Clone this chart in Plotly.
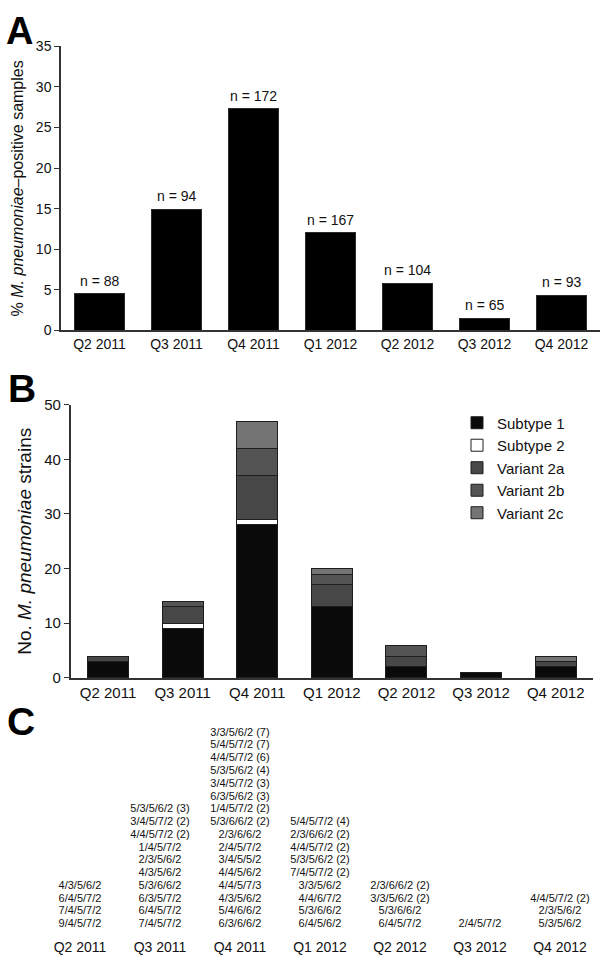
import plotly.graph_objects as go

# ---------------- data ----------------
quarters = ["Q2 2011", "Q3 2011", "Q4 2011", "Q1 2012", "Q2 2012", "Q3 2012", "Q4 2012"]

# Panel A
pct_positive = [4.5, 14.9, 27.3, 12.0, 5.8, 1.5, 4.3]
n_samples = [88, 94, 172, 167, 104, 65, 93]

# Panel B (stacked counts)
subtype1 = [3, 9, 28, 13, 2, 1, 2]
subtype2 = [0, 1, 1, 0, 0, 0, 0]
variant2a = [1, 3, 8, 4, 2, 0, 1]
variant2b = [0, 1, 5, 2, 2, 0, 0]
variant2c = [0, 0, 5, 1, 0, 0, 1]

# Panel C (MLVA types per quarter, top to bottom)
mlva_q2_2011 = ["4/3/5/6/2", "6/4/5/7/2", "7/4/5/7/2", "9/4/5/7/2"]
mlva_q3_2011 = ["5/3/5/6/2 (3)", "3/4/5/7/2 (2)", "4/4/5/7/2 (2)", "1/4/5/7/2", "2/3/5/6/2",
                "4/3/5/6/2", "5/3/6/6/2", "6/3/5/7/2", "6/4/5/7/2", "7/4/5/7/2"]
mlva_q4_2011 = ["3/3/5/6/2 (7)", "5/4/5/7/2 (7)", "4/4/5/7/2 (6)", "5/3/5/6/2 (4)", "3/4/5/7/2 (3)",
                "6/3/5/6/2 (3)", "1/4/5/7/2 (2)", "5/3/6/6/2 (2)", "2/3/6/6/2", "2/4/5/7/2",
                "3/4/5/5/2", "4/4/5/6/2", "4/4/5/7/3", "4/3/5/6/2", "5/4/6/6/2", "6/3/6/6/2"]
mlva_q1_2012 = ["5/4/5/7/2 (4)", "2/3/6/6/2 (2)", "4/4/5/7/2 (2)", "5/3/5/6/2 (2)", "7/4/5/7/2 (2)",
                "3/3/5/6/2", "4/4/6/7/2", "5/3/6/6/2", "6/4/5/6/2"]
mlva_q2_2012 = ["2/3/6/6/2 (2)", "3/3/5/6/2 (2)", "5/3/6/6/2", "6/4/5/7/2"]
mlva_q3_2012 = ["2/4/5/7/2"]
mlva_q4_2012 = ["4/4/5/7/2 (2)", "2/3/5/6/2", "5/3/5/6/2"]
mlva_lists = [mlva_q2_2011, mlva_q3_2011, mlva_q4_2011, mlva_q1_2012,
              mlva_q2_2012, mlva_q3_2012, mlva_q4_2012]

# ---------------- styling ----------------
FONT = "Arial, 'Liberation Sans', Helvetica, sans-serif"
TXT = "#111111"
AXC = "#333333"
W, H = 600, 979

def px_x(a, b):
    return [a / W, min(1, b / W)]

def px_y(top, bottom):
    return [1 - bottom / H, 1 - top / H]

def pxp_x(a):
    return a / W

def pxp_y(a):
    return 1 - a / H

fig = go.Figure()

# Panel A
fig.add_trace(go.Bar(
    x=quarters, y=pct_positive, xaxis="x", yaxis="y",
    marker=dict(color="#000000", line=dict(color="#2a2a2a", width=1)),
    width=0.66, showlegend=False,
))

# Panel B
series = [
    ("Subtype 1", subtype1, "#0a0a0a"),
    ("Subtype 2", subtype2, "#ffffff"),
    ("Variant 2a", variant2a, "#474747"),
    ("Variant 2b", variant2b, "#545454"),
    ("Variant 2c", variant2c, "#747474"),
]
for name, vals, col in series:
    fig.add_trace(go.Bar(
        x=quarters, y=[v if v else None for v in vals], name=name,
        xaxis="x2", yaxis="y2", width=0.55,
        marker=dict(color=col, line=dict(color="#1e1e1e", width=1)),
    ))

# Panel C
cx, cy, ct = [], [], []
for q, lst in zip(quarters, mlva_lists):
    for i, s in enumerate(lst):
        cx.append(q)
        cy.append(len(lst) - 1 - i)
        ct.append(s)
fig.add_trace(go.Scatter(
    x=cx, y=cy, text=ct, mode="text", xaxis="x3", yaxis="y3",
    textfont=dict(family=FONT, size=11, color=TXT), showlegend=False,
))

annotations = [
    dict(text=f"n = {n}", x=q, y=v, xref="x", yref="y", xanchor="center",
         yanchor="bottom", yshift=3, showarrow=False,
         font=dict(family=FONT, size=14, color=TXT))
    for q, v, n in zip(quarters, pct_positive, n_samples)
]
annotations.append(dict(text="<b>A</b>", x=pxp_x(19), y=1, xref="paper", yref="paper",
                        xanchor="center", yanchor="top", showarrow=False, borderpad=0,
                        font=dict(size=38, color="#000", family=FONT)))
for letter, cxp, cyp in [("B", 21.5, 386), ("C", 21, 725)]:
    annotations.append(dict(text=f"<b>{letter}</b>", x=pxp_x(cxp), y=pxp_y(cyp),
                            xref="paper", yref="paper", xanchor="center", yanchor="middle",
                            showarrow=False, font=dict(size=39, color="#000", family=FONT)))

fig.update_layout(
    width=W, height=H, autosize=False,
    margin=dict(l=0, r=0, t=0, b=0),
    paper_bgcolor="white", plot_bgcolor="white",
    font=dict(family=FONT, color=TXT, size=14),
    barmode="stack",
    showlegend=True,
    legend=dict(x=pxp_x(457), y=pxp_y(404.5), xanchor="left", yanchor="top",
                traceorder="normal", font=dict(size=15, family=FONT, color=TXT),
                bgcolor="rgba(0,0,0,0)"),
    xaxis=dict(domain=px_x(61, 600), anchor="y", type="category", range=[-0.5, 6.5],
               showline=True, linecolor=AXC, linewidth=1.5, ticks="",
               tickfont=dict(size=14), showgrid=False, zeroline=False),
    yaxis=dict(domain=px_y(38, 327), anchor="x", range=[0, 35], dtick=5,
               showline=True, linecolor=AXC, linewidth=1.5, ticks="outside",
               ticklen=5, tickcolor=AXC, tickfont=dict(size=14),
               showgrid=False, zeroline=False,
               title=dict(text="% <i>M. pneumoniae</i>–positive samples",
                          font=dict(size=16), standoff=8)),
    xaxis2=dict(domain=px_x(70.7, 593), anchor="y2", type="category", range=[-0.5, 6.5],
                showline=True, linecolor=AXC, linewidth=1.5, ticks="",
                tickfont=dict(size=15), showgrid=False, zeroline=False),
    yaxis2=dict(domain=px_y(402.7, 680.7), anchor="x2", range=[0, 50], dtick=10,
                showline=True, linecolor=AXC, linewidth=1.5, ticks="outside",
                ticklen=5, tickcolor=AXC, tickfont=dict(size=15),
                showgrid=False, zeroline=False,
                title=dict(text="No. <i>M. pneumoniae</i> strains",
                           font=dict(size=19), standoff=8)),
    xaxis3=dict(domain=px_x(40, 600), anchor="y3", type="category", range=[-0.5, 6.5],
                showline=False, ticks="outside", ticklen=3, tickcolor="rgba(0,0,0,0)",
                tickfont=dict(size=14), showgrid=False, zeroline=False),
    yaxis3=dict(domain=px_y(730.2, 938.2), anchor="x3", range=[-0.5, 15.5],
                visible=False, showgrid=False, zeroline=False),
    annotations=annotations,
)

fig.write_html("out.html", config={"displayModeBar": False},
               post_script="document.body.style.margin='0px';")
